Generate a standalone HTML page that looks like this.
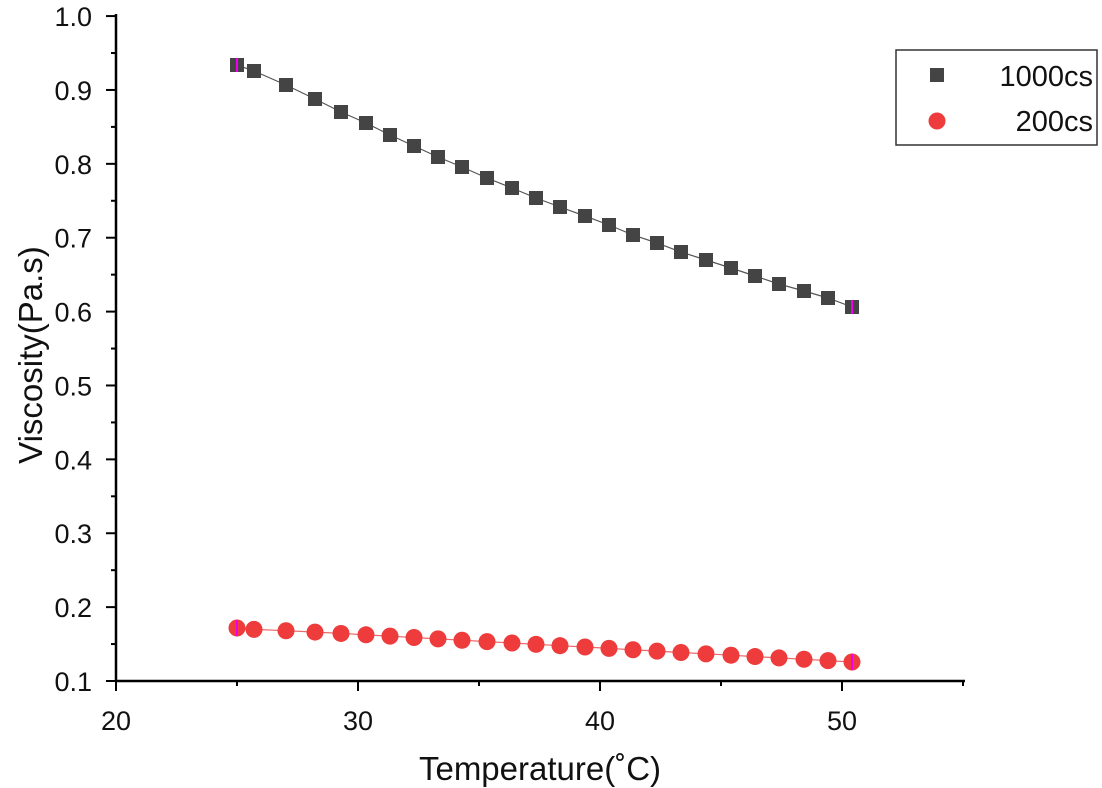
<!DOCTYPE html><html><head><style>body{margin:0;background:#fff}svg{display:block}text{font-family:"Liberation Sans",Arial,sans-serif}</style></head><body>
<svg width="1102" height="788" xmlns="http://www.w3.org/2000/svg">
<g stroke="#000" stroke-width="2.5" fill="none">
<line x1="116" y1="14" x2="116" y2="682"/><line x1="115" y1="681" x2="965" y2="681"/>
</g>
<g id="t" stroke="#000" stroke-width="2"></g>
<g font-size="27" fill="#111" text-anchor="end" id="yl"></g>
<g font-size="27" fill="#111" text-anchor="middle" id="xl"></g>
<text x="540" y="780" font-size="33" text-anchor="middle" fill="#111">Temperature(˚C)</text>
<text transform="translate(42,355) rotate(-90)" font-size="33" text-anchor="middle" fill="#111">Viscosity(Pa.s)</text>
<polyline id="l1" fill="none" stroke="#555" stroke-width="1.2"/>
<polyline id="l2" fill="none" stroke="#e66" stroke-width="1.2"/>
<g id="m"></g>
<rect x="896" y="50" width="201" height="95" fill="#fff" stroke="#333" stroke-width="1.5"/>
<rect x="930" y="68" width="14" height="14" fill="#444"/>
<text x="1093" y="86" font-size="29" text-anchor="end" fill="#111">1000cs</text>
<circle cx="937" cy="121" r="8.5" fill="#ee3b3b"/>
<text x="1093" y="131" font-size="29" text-anchor="end" fill="#111">200cs</text>
</svg>
<script>
const ns="http://www.w3.org/2000/svg";function el(p,t,a,tx){const e=document.createElementNS(ns,t);for(const k in a)e.setAttribute(k,a[k]);if(tx)e.textContent=tx;document.getElementById(p).appendChild(e);}
for(let i=0;i<=18;i++){const y=681-i*36.94;const maj=i%2==0;el('t','line',{x1:116,x2:maj?106:111,y1:y,y2:y});if(maj)el('yl','text',{x:92,y:y+10},(0.1+i*0.05).toFixed(1));}
for(let i=0;i<=7;i++){const x=116+i*121;const maj=i%2==0;el('t','line',{x1:x,x2:x,y1:681,y2:maj?691:686});if(maj)el('xl','text',{x:x,y:730},String(20+i*5));}
const xs=[237,254,286,315,341,366,390,414,438,462,487,512,536,560,585,609,633,657,681,706,731,755,779,804,828,852];
const yb=[65,71,85,99,112,123,135,146,157,167,178,188,198,207,216,225,235,243,252,260,268,276,284,291,298,307];
let p1=[],p2=[];
xs.forEach((x,i)=>{const y2=628+(662-628)*i/25;p1.push(x+','+yb[i]);p2.push(x+','+y2.toFixed(1));
el('m','rect',{x:x-7,y:yb[i]-7,width:14,height:14,fill:'#444'});el('m','circle',{cx:x,cy:y2,r:8.5,fill:'#ee3b3b'});});
document.getElementById('l1').setAttribute('points',p1.join(' '));document.getElementById('l2').setAttribute('points',p2.join(' '));
el('m','line',{x1:237,x2:237,y1:58,y2:72,stroke:'#e0e',"stroke-width":2});el('m','line',{x1:852,x2:852,y1:300,y2:314,stroke:'#e0e',"stroke-width":2});
el('m','line',{x1:237,x2:237,y1:620,y2:636,stroke:'#e0e',"stroke-width":2});el('m','line',{x1:852,x2:852,y1:654,y2:670,stroke:'#e0e',"stroke-width":2});
</script></body></html>
